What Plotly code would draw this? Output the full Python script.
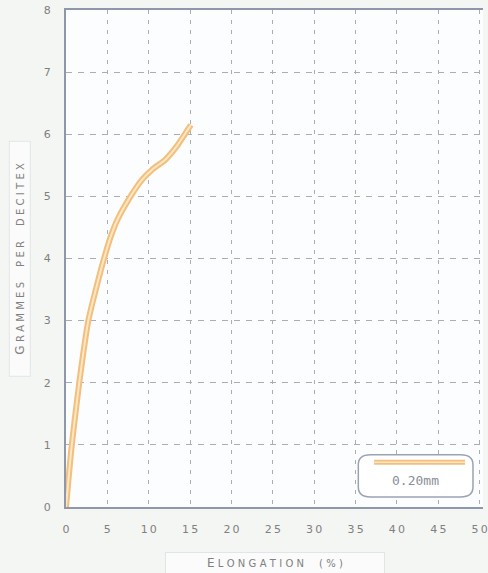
import plotly.graph_objects as go

# data
elongation = [0, 0.7, 1.6, 2.7, 3.7, 4.6, 5.4, 6.2, 7.8, 9.2, 10.4, 12.0, 13.35, 14.7, 15.1]
grammes = [0, 1.0, 2.0, 3.0, 3.55, 4.0, 4.35, 4.62, 5.0, 5.27, 5.43, 5.59, 5.8, 6.07, 6.15]
series_name = "0.20mm"
x_ticks = [0, 5, 10, 15, 20, 25, 30, 35, 40, 45, 50]
x_labels = ["0", "5", "1\u20090", "1\u20095", "2\u20090", "2\u20095", "3\u20090",
            "3\u20095", "4\u20090", "4\u20095", "5\u20090"]
y_ticks = [0, 1, 2, 3, 4, 5, 6, 7, 8]

FONT = "DejaVu Sans"
GREY = "#808080"
FRAME = "#8f98aa"
GRID = "#a9adb4"
ORANGE = "#f2bf7c"
LIGHT = "#fde6c4"

fig = go.Figure()
fig.add_trace(go.Scatter(x=elongation, y=grammes, mode="lines",
                         line=dict(color=ORANGE, width=6, shape="spline", smoothing=0.6),
                         showlegend=False, hoverinfo="skip"))
fig.add_trace(go.Scatter(x=elongation, y=grammes, mode="lines",
                         line=dict(color=LIGHT, width=2, shape="spline", smoothing=0.6),
                         showlegend=False, name=series_name))

sp = "\u2004"
wg = "\u2003\u2002"
def smallcaps(words):
    first = words[0][0]
    rest_words = [words[0][1:]] + words[1:]
    body = wg.join(sp.join(list(w)) for w in rest_words)
    return f"{first}<span style='font-size:10px'>{sp}{body}</span>"

x_title = smallcaps(["ELONGATION", "(%)"])
y_title = smallcaps(["GRAMMES", "PER", "DECITEX"])

fig.update_layout(
    width=488, height=573,
    margin=dict(l=66, r=0, t=10, b=66),
    paper_bgcolor="#f4f6f3",
    plot_bgcolor="#fcfdfe",
    font=dict(family=FONT, color=GREY, size=10),
    xaxis=dict(range=[0, 50.4], tickvals=x_ticks, ticktext=x_labels, ticks="",
               ticklabelstandoff=11, ticklabeloverflow="allow",
               showline=True, linecolor=FRAME, linewidth=2, mirror=True,
               showgrid=True, gridcolor=GRID, griddash="4px,6px", gridwidth=1,
               zeroline=False, tickfont=dict(size=11, color=GREY, family=FONT)),
    yaxis=dict(range=[0, 8], tickvals=y_ticks, ticks="", ticklabelstandoff=11,
               showline=True, linecolor=FRAME, linewidth=2,
               showgrid=True, gridcolor=GRID, griddash="6px,6px", gridwidth=1,
               zeroline=False, tickfont=dict(size=11, color=GREY, family=FONT)),
    annotations=[
        dict(text=x_title, xref="paper", yref="paper", x=0.5, y=-0.113, yanchor="middle",
             xanchor="center", showarrow=False, font=dict(size=12, color=GREY),
             bordercolor="#e2e5e8", borderwidth=1, borderpad=3, bgcolor="#fafbfa",
             width=212),
        dict(text=y_title, xref="paper", yref="paper", x=-0.112, y=0.5, xanchor="center",
             yanchor="middle", showarrow=False, textangle=-90, font=dict(size=12, color=GREY),
             bordercolor="#e2e5e8", borderwidth=1, borderpad=3, bgcolor="#fafbfa",
             width=228),
        dict(text=series_name, xref="paper", yref="paper", x=0.839, y=0.054,
             xanchor="center", yanchor="middle", showarrow=False,
             font=dict(size=13, color="#8a8f98", family="DejaVu Sans Mono")),
    ],
    shapes=[
        dict(type="path", xref="paper", yref="paper", layer="above",
             path="M 0.73 0.02 L 0.946 0.02 Q 0.976 0.02 0.976 0.04 L 0.976 0.085 "
                  "Q 0.976 0.105 0.946 0.105 L 0.73 0.105 Q 0.701 0.105 0.701 0.085 L 0.701 0.04 "
                  "Q 0.701 0.02 0.73 0.02 Z",
             line=dict(color="#9aa3b2", width=1.5), fillcolor="rgba(255,255,255,0.95)"),
        dict(type="line", xref="paper", yref="paper", layer="above",
             x0=0.739, x1=0.957, y0=0.09, y1=0.09, line=dict(color=ORANGE, width=5)),
        dict(type="line", xref="paper", yref="paper", layer="above",
             x0=0.739, x1=0.957, y0=0.09, y1=0.09, line=dict(color=LIGHT, width=1.5)),
    ],
)

fig.write_html("out.html", config={"displayModeBar": False},
               post_script="document.body.style.margin='0';")
